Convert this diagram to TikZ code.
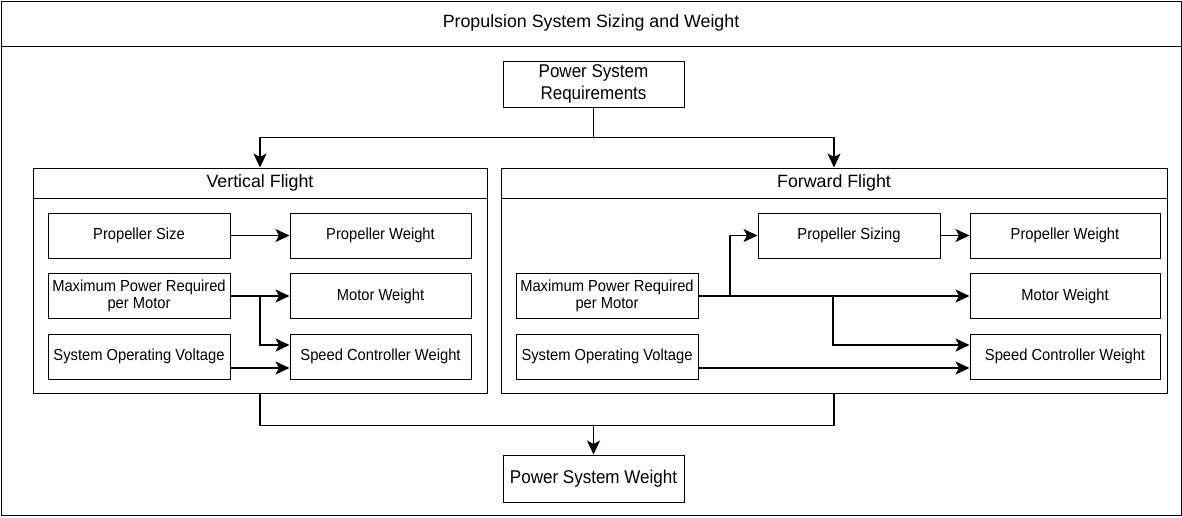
\documentclass[tikz,border=0pt]{standalone}
\usepackage{fontspec}
\setmainfont{Liberation Sans}
\newfontfamily\condfont[FakeStretch=0.92]{Liberation Sans}
\usetikzlibrary{arrows.meta,calc}
\begin{document}
\begin{tikzpicture}[x=1pt,y=-1pt,
  box/.style={draw=black,line width=1pt,fill=white,inner sep=0pt,align=center,font=\condfont\fontsize{16}{17}\selectfont},
  bigbox/.style={box,font=\condfont\fontsize{18.5}{21.5}\selectfont},
  frame/.style={draw=black,line width=1pt,inner sep=0pt},
  hdr/.style={font=\fontsize{17.8}{20}\selectfont,inner sep=0pt},
  arr/.style={draw=black,line width=1.3pt,-{Stealth[length=14pt,width=13pt,inset=3.5pt]}},
  ln/.style={draw=black,line width=1.3pt}]
\useasboundingbox (0,0) rectangle (1182,517);
% outer frame
\node[frame,minimum width=1180pt,minimum height=514pt] (outer) at (591,258.5) {};
\draw[frame] (1,46) -- (1181,46);
\node[hdr] (title) at (591,23) {Propulsion System Sizing and Weight};
% top requirements
\node[bigbox,minimum width=181pt,minimum height=46pt] (psr) at (593.5,84) {Power System\\Requirements};
% containers
\node[frame,minimum width=454pt,minimum height=225pt] (vf) at (260,280.5) {};
\draw[frame] (33,198) -- (487,198);
\node[hdr] (vft) at (260,183) {Vertical Flight};
\node[frame,minimum width=666pt,minimum height=225pt] (ff) at (834,280.5) {};
\draw[frame] (501,198) -- (1167,198);
\node[hdr] (fft) at (834,183) {Forward Flight};
% vertical flight boxes
\tikzset{lb/.style={box,minimum width=182pt,minimum height=45pt}}
\node[lb] (ps) at (139,235.5) {Propeller Size};
\node[lb,minimum width=181pt] (pw) at (380.5,235.5) {Propeller Weight};
\node[lb] (mp) at (139,296) {Maximum Power Required\\per Motor};
\node[lb,minimum width=181pt] (mw) at (380.5,296) {Motor Weight};
\node[lb] (sv) at (139,356.5) {System Operating Voltage};
\node[lb,minimum width=181pt] (sc) at (380.5,356.5) {Speed Controller Weight};
% forward flight boxes
\node[lb] (psz) at (849,235.5) {Propeller Sizing};
\node[lb,minimum width=190pt] (fpw) at (1065,235.5) {Propeller Weight};
\node[lb] (fmp) at (607,296) {Maximum Power Required\\per Motor};
\node[lb,minimum width=190pt] (fmw) at (1065,296) {Motor Weight};
\node[lb] (fsv) at (607,356.5) {System Operating Voltage};
\node[lb,minimum width=190pt] (fsc) at (1065,356.5) {Speed Controller Weight};
% bottom box
\node[bigbox,minimum width=181pt,minimum height=47pt] (psw) at (593.5,478.5) {Power System Weight};
% junction coordinates
\coordinate (vj) at (260,296);
\coordinate (fj1) at (730,296);
\coordinate (fj2) at (833,296);
\coordinate (bj) at (593.5,425);
% top connectors
\draw[arr] (psr.south) -- ++(0,30) -| (vf.north);
\draw[arr] (psr.south) -- ++(0,30) -| (ff.north);
% vertical flight connectors
\draw[arr] (ps.east) -- (pw.west);
\draw[arr] (mp.east) -- (mw.west);
\draw[arr] (vj) |- ([yshift=11.5pt]sc.west);
\draw[arr] ([yshift=-11.5pt]sv.east) -- ([yshift=-11.5pt]sc.west);
% forward flight connectors
\draw[arr] (fmp.east) -- (fmw.west);
\draw[arr] (fj1) |- (psz.west);
\draw[arr] (psz.east) -- (fpw.west);
\draw[arr] (fj2) |- ([yshift=11.5pt]fsc.west);
\draw[arr] ([yshift=-11.5pt]fsv.east) -- ([yshift=-11.5pt]fsc.west);
% bottom connectors
\draw[ln] (vf.south) -- ++(0,32) -| (ff.south);
\draw[arr] (bj) -- (psw.north);
\end{tikzpicture}
\end{document}
